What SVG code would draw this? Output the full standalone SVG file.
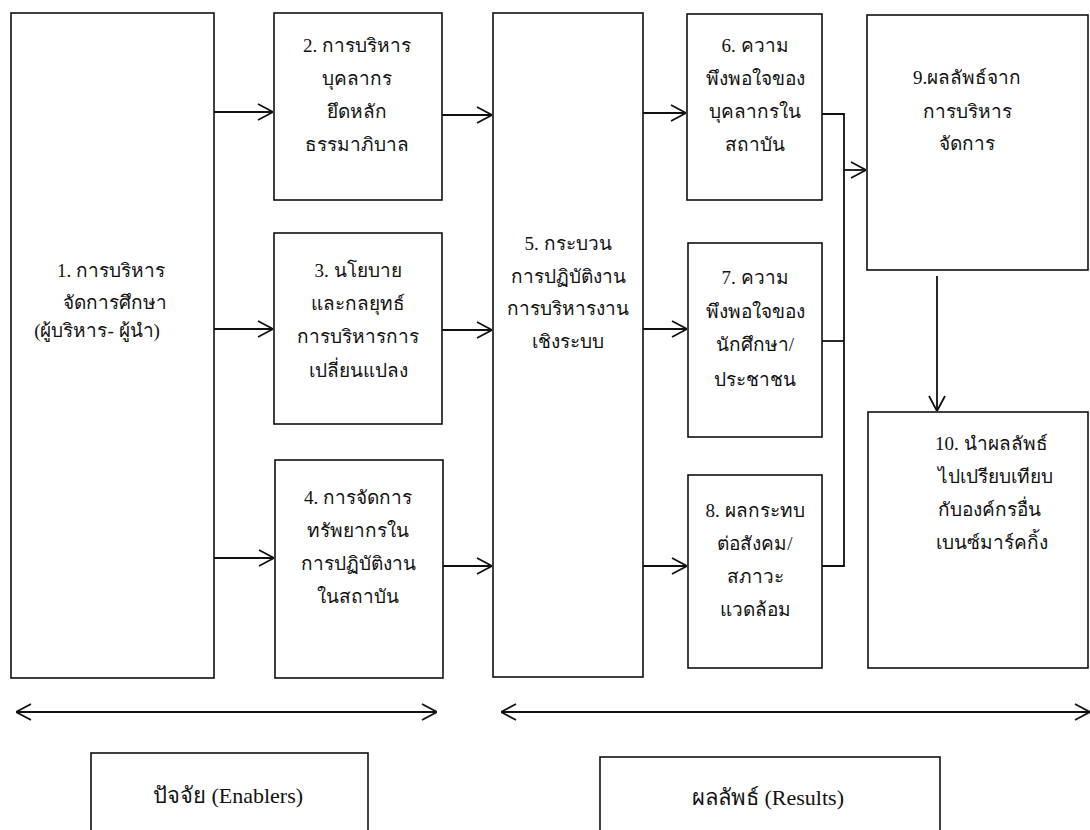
<svg xmlns="http://www.w3.org/2000/svg" width="1090" height="830" viewBox="0 0 1090 830">
  <style>
    .box { fill: #ffffff; stroke: #111111; stroke-width: 1.6; }
    .wire { fill: none; stroke: #111111; stroke-width: 1.8; }
    .lbl { font-family: "Liberation Serif", "Noto Sans", serif; font-size: 19px; fill: #111111; text-anchor: middle; dominant-baseline: central; }
    .left { text-anchor: start; }
    .cap { font-size: 22px; }
  </style>
  <defs>
    <marker id="head" viewBox="0 0 16 18" refX="16" refY="9" markerWidth="16" markerHeight="18" markerUnits="userSpaceOnUse" orient="auto-start-reverse">
      <path d="M1,1 L16,9 L1,17" fill="none" stroke="#111111" stroke-width="1.8"/>
    </marker>
  </defs>
  <rect width="1090" height="830" fill="#ffffff"/>

  <g id="n1">
    <rect class="box" x="11" y="13" width="203" height="665"/>
    <text class="lbl" x="111" y="270">1. การบริหาร</text>
    <text class="lbl" x="115" y="302">จัดการศึกษา</text>
    <text class="lbl" x="97" y="330">(ผู้บริหาร- ผู้นำ)</text>
  </g>
  <g id="n2">
    <rect class="box" x="274" y="13" width="168" height="187"/>
    <text class="lbl" x="357" y="45">2. การบริหาร</text>
    <text class="lbl" x="357" y="78">บุคลากร</text>
    <text class="lbl" x="357" y="111">ยึดหลัก</text>
    <text class="lbl" x="357" y="144">ธรรมาภิบาล</text>
  </g>
  <g id="n3">
    <rect class="box" x="274" y="233" width="168" height="191"/>
    <text class="lbl" x="358" y="270">3. นโยบาย</text>
    <text class="lbl" x="358" y="303">และกลยุทธ์</text>
    <text class="lbl" x="358" y="336">การบริหารการ</text>
    <text class="lbl" x="358" y="370">เปลี่ยนแปลง</text>
  </g>
  <g id="n4">
    <rect class="box" x="275" y="460" width="168" height="218"/>
    <text class="lbl" x="358" y="497">4. การจัดการ</text>
    <text class="lbl" x="358" y="530">ทรัพยากรใน</text>
    <text class="lbl" x="358" y="563">การปฏิบัติงาน</text>
    <text class="lbl" x="358" y="596">ในสถาบัน</text>
  </g>
  <g id="n5">
    <rect class="box" x="493" y="13" width="150" height="664"/>
    <text class="lbl" x="568" y="243">5. กระบวน</text>
    <text class="lbl" x="568" y="276">การปฏิบัติงาน</text>
    <text class="lbl" x="568" y="308">การบริหารงาน</text>
    <text class="lbl" x="568" y="341">เชิงระบบ</text>
  </g>
  <g id="n6">
    <rect class="box" x="687" y="14" width="135" height="186"/>
    <text class="lbl" x="755" y="45">6. ความ</text>
    <text class="lbl" x="755" y="78">พึงพอใจของ</text>
    <text class="lbl" x="755" y="111">บุคลากรใน</text>
    <text class="lbl" x="755" y="144">สถาบัน</text>
  </g>
  <g id="n7">
    <rect class="box" x="688" y="243" width="134" height="194"/>
    <text class="lbl" x="755" y="277">7. ความ</text>
    <text class="lbl" x="755" y="311">พึงพอใจของ</text>
    <text class="lbl" x="755" y="344">นักศึกษา/</text>
    <text class="lbl" x="755" y="379">ประชาชน</text>
  </g>
  <g id="n8">
    <rect class="box" x="688" y="475" width="134" height="193"/>
    <text class="lbl" x="755" y="510">8. ผลกระทบ</text>
    <text class="lbl" x="755" y="543">ต่อสังคม/</text>
    <text class="lbl" x="755" y="576">สภาวะ</text>
    <text class="lbl" x="755" y="609">แวดล้อม</text>
  </g>
  <g id="n9">
    <rect class="box" x="867" y="15" width="221" height="255"/>
    <text class="lbl" x="967" y="77">9.ผลลัพธ์จาก</text>
    <text class="lbl" x="967" y="111">การบริหาร</text>
    <text class="lbl" x="967" y="143">จัดการ</text>
  </g>
  <g id="n10">
    <rect class="box" x="868" y="412" width="220" height="256"/>
    <text class="lbl left" x="935" y="443">10. นำผลลัพธ์</text>
    <text class="lbl left" x="938" y="476">ไปเปรียบเทียบ</text>
    <text class="lbl left" x="938" y="509">กับองค์กรอื่น</text>
    <text class="lbl left" x="936" y="542">เบนซ์มาร์คกิ้ง</text>
  </g>
  <g id="enablers">
    <rect class="box" x="91" y="753" width="277" height="100"/>
    <text class="lbl cap" x="228" y="795">ปัจจัย (Enablers)</text>
  </g>
  <g id="results">
    <rect class="box" x="600" y="757" width="340" height="100"/>
    <text class="lbl cap" x="768" y="797">ผลลัพธ์ (Results)</text>
  </g>

  <g id="connectors">
    <line class="wire" x1="214" y1="112" x2="273" y2="112" marker-end="url(#head)"/>
    <line class="wire" x1="214" y1="329" x2="273" y2="329" marker-end="url(#head)"/>
    <line class="wire" x1="214" y1="558" x2="274" y2="558" marker-end="url(#head)"/>
    <line class="wire" x1="442" y1="115" x2="492" y2="115" marker-end="url(#head)"/>
    <line class="wire" x1="442" y1="330" x2="492" y2="330" marker-end="url(#head)"/>
    <line class="wire" x1="443" y1="566" x2="492" y2="566" marker-end="url(#head)"/>
    <line class="wire" x1="643" y1="113" x2="686" y2="113" marker-end="url(#head)"/>
    <line class="wire" x1="643" y1="329" x2="687" y2="329" marker-end="url(#head)"/>
    <line class="wire" x1="643" y1="566" x2="687" y2="566" marker-end="url(#head)"/>
    <polyline class="wire" points="822,114 844,114 844,566 822,566"/>
    <line class="wire" x1="822" y1="341" x2="844" y2="341"/>
    <line class="wire" x1="844" y1="170" x2="866" y2="170" marker-end="url(#head)"/>
    <line class="wire" x1="937" y1="276" x2="937" y2="411" marker-end="url(#head)"/>
    <line class="wire" x1="16" y1="712" x2="437" y2="712" marker-start="url(#head)" marker-end="url(#head)"/>
    <line class="wire" x1="501" y1="712" x2="1090" y2="712" marker-start="url(#head)" marker-end="url(#head)"/>
  </g>
</svg>
